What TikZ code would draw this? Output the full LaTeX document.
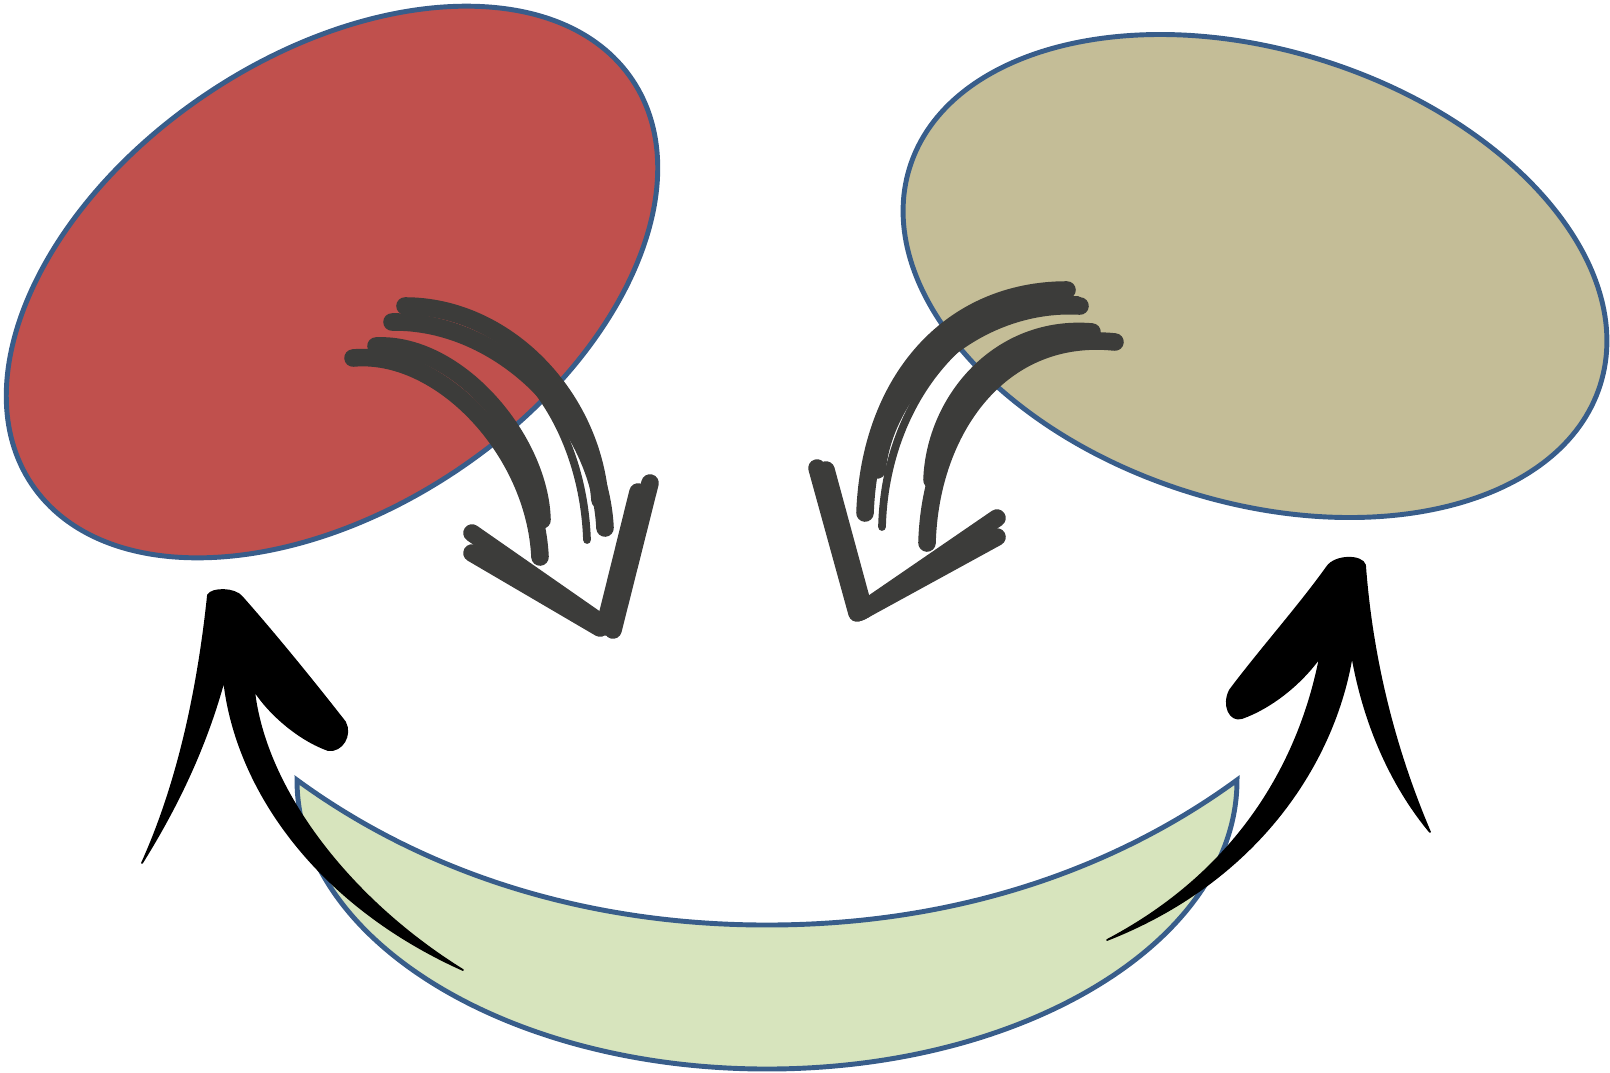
\documentclass[tikz,border=0pt]{standalone}
\usepackage{tikz}
\usepackage{xcolor}

\definecolor{blobred}{HTML}{C0504D}
\definecolor{blobtan}{HTML}{C4BD97}
\definecolor{bowlgreen}{HTML}{D7E4BD}
\definecolor{edgeblue}{HTML}{385D8A}
\definecolor{markgray}{HTML}{3C3C3A}

\begin{document}
\begin{tikzpicture}[
  x=0.01cm, y=-0.01cm,
  blob/.style={draw=edgeblue, line width=1.4pt},
  marker/.style={draw=markgray, line width=5pt, line cap=round},
  markerthin/.style={draw=markgray, line width=2.2pt, line cap=round},
  brush/.style={fill=black, draw=black, line width=0.5pt, line join=round}
]
\useasboundingbox (0,0) rectangle (1610,1072);

% -------- ELIPSES --------
\coordinate (redc) at (332,282);
\coordinate (tanc) at (1255,276);
\draw[blob, fill=blobred, rotate around={34:(redc)}] (redc) ellipse [x radius=362, y radius=226];
\draw[blob, fill=blobtan, rotate around={-17.5:(tanc)}] (tanc) ellipse [x radius=362, y radius=226];

% -------- TIGELA --------
\coordinate (bowlL) at (297,780);
\coordinate (bowlR) at (1237,780);
\draw[blob, fill=bowlgreen] (bowlL) .. controls (420,870) and (580,925) .. (767,925)
  .. controls (954,925) and (1114,870) .. (bowlR)
  arc [start angle=0, end angle=180, x radius=470, y radius=289] -- cycle;

% -------- SETA CINZA ESQUERDA --------
\draw[marker] (353,358) .. controls (440,350) and (535,450) .. (540,557);
\draw[marker] (376,346) .. controls (458,342) and (540,440) .. (542,520);
\draw[marker] (392,322) .. controls (500,320) and (600,420) .. (605,528);
\draw[marker] (405,306) .. controls (505,306) and (592,395) .. (600,500);
\draw[markerthin] (420,322) .. controls (515,330) and (583,425) .. (587,540);
\draw[marker] (472,533) -- (607,627);
\draw[marker] (472,553) -- (600,628);
\draw[marker] (613,630) -- (650,483);
\draw[marker] (605,625) -- (638,492);

% -------- SETA CINZA DIREITA --------
\draw[marker] (1067,290) .. controls (950,290) and (870,380) .. (865,513);
\draw[marker] (1080,306) .. controls (975,300) and (885,385) .. (877,470);
\draw[markerthin] (1078,300) .. controls (970,298) and (885,400) .. (882,527);
\draw[marker] (1115,342) .. controls (1000,330) and (930,430) .. (927,543);
\draw[marker] (1092,332) .. controls (1000,324) and (935,400) .. (932,480);
\draw[marker] (817,468) -- (857,613);
\draw[marker] (826,470) -- (864,610);
\draw[marker] (860,612) -- (997,518);
\draw[marker] (860,612) -- (997,537);

% -------- SETA PRETA ESQUERDA --------
\fill[brush] (142,863) .. controls (175,790) and (197,700) .. (208,595)
  .. controls (212,588) and (235,588) .. (242,597)
  .. controls (280,640) and (320,690) .. (345,722)
  .. controls (352,735) and (342,752) .. (328,750)
  .. controls (300,740) and (270,715) .. (254,690)
  .. controls (265,790) and (350,900) .. (463,970)
  .. controls (318,905) and (236,790) .. (224,680)
  .. controls (205,750) and (175,810) .. (142,863) -- cycle;

% -------- SETA PRETA DIREITA --------
\fill[brush] (1430,832) .. controls (1395,750) and (1372,660) .. (1365,565)
  .. controls (1362,555) and (1335,555) .. (1327,567)
  .. controls (1300,605) and (1260,650) .. (1230,690)
  .. controls (1222,705) and (1230,722) .. (1242,718)
  .. controls (1270,708) and (1300,685) .. (1320,657)
  .. controls (1300,760) and (1240,870) .. (1107,940)
  .. controls (1260,880) and (1335,760) .. (1352,655)
  .. controls (1365,730) and (1395,790) .. (1430,832) -- cycle;

\end{tikzpicture}
\end{document}
